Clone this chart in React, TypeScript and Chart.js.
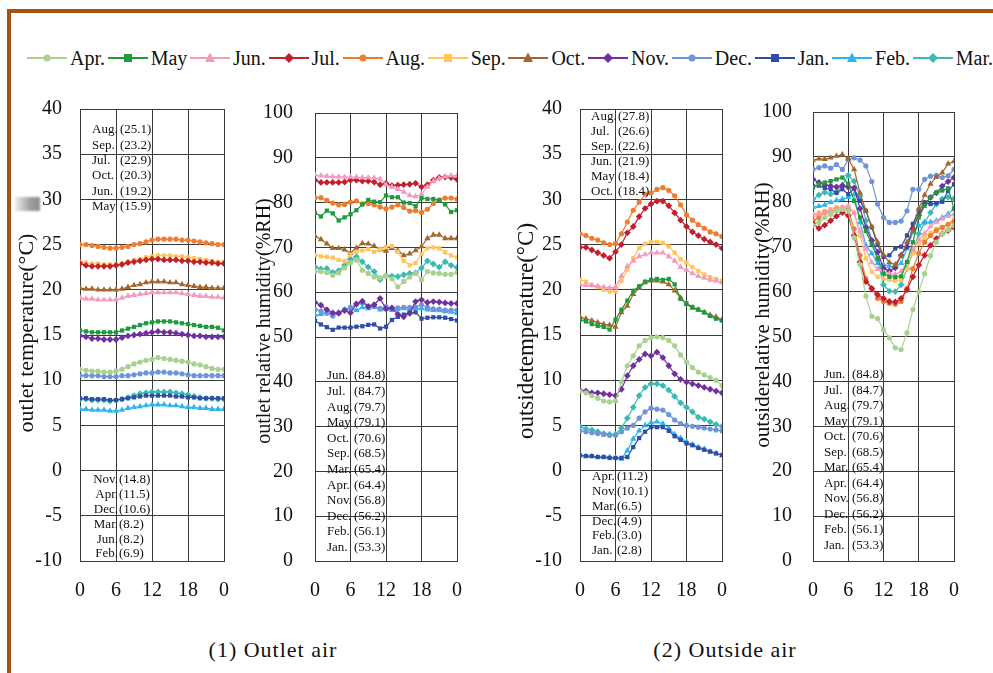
import React, { useEffect, useRef } from "react";
import { Chart, registerables } from "chart.js";

Chart.register(...registerables);

// ---------- DATA ----------
const hours = [0, 1, 2, 3, 4, 5, 6, 7, 8, 9, 10, 11, 12, 13, 14, 15, 16, 17, 18, 19, 20, 21, 22, 23, 24];
const hourTickLabels = ["0", "6", "12", "18", "0"];

const months = ["Apr.", "May", "Jun.", "Jul.", "Aug.", "Sep.", "Oct.", "Nov.", "Dec.", "Jan.", "Feb.", "Mar."];

// (1) outlet air temperature, series in the order of `months`
const outletTemp: number[][] = [
  [11.2, 11.1, 11.0, 11.0, 10.9, 10.9, 11.0, 11.2, 11.5, 11.8, 12.0, 12.2, 12.3, 12.5, 12.4, 12.3, 12.2, 12.1, 12.0, 11.8, 11.7, 11.5, 11.3, 11.2, 11.2],
  [15.5, 15.4, 15.3, 15.3, 15.3, 15.3, 15.3, 15.5, 15.7, 15.9, 16.1, 16.3, 16.4, 16.5, 16.5, 16.5, 16.4, 16.3, 16.2, 16.1, 16.0, 15.9, 15.9, 15.8, 15.5],
  [19.1, 19.0, 19.0, 18.9, 18.9, 18.9, 18.9, 19.1, 19.3, 19.4, 19.5, 19.6, 19.7, 19.7, 19.7, 19.7, 19.7, 19.6, 19.5, 19.4, 19.3, 19.3, 19.2, 19.2, 19.1],
  [22.9, 22.7, 22.6, 22.6, 22.6, 22.6, 22.7, 22.8, 23.0, 23.1, 23.2, 23.3, 23.4, 23.4, 23.3, 23.3, 23.3, 23.2, 23.2, 23.1, 23.1, 23.0, 23.0, 22.9, 22.9],
  [25.0, 25.0, 24.9, 24.8, 24.7, 24.6, 24.6, 24.7, 24.8, 25.0, 25.1, 25.3, 25.5, 25.6, 25.6, 25.6, 25.6, 25.5, 25.5, 25.4, 25.3, 25.2, 25.1, 25.0, 25.0],
  [23.1, 23.0, 22.9, 22.9, 22.8, 22.8, 22.8, 22.9, 23.1, 23.3, 23.4, 23.6, 23.7, 23.8, 23.8, 23.8, 23.7, 23.7, 23.6, 23.5, 23.4, 23.3, 23.2, 23.1, 23.1],
  [20.2, 20.1, 20.1, 20.0, 20.0, 20.0, 20.0, 20.1, 20.3, 20.5, 20.6, 20.8, 20.9, 20.9, 20.9, 20.8, 20.8, 20.6, 20.5, 20.4, 20.3, 20.3, 20.2, 20.2, 20.2],
  [14.9, 14.8, 14.6, 14.6, 14.5, 14.5, 14.5, 14.7, 14.9, 15.0, 15.1, 15.2, 15.3, 15.4, 15.3, 15.3, 15.2, 15.1, 15.0, 14.9, 14.9, 14.8, 14.8, 14.8, 14.8],
  [10.5, 10.5, 10.5, 10.5, 10.4, 10.4, 10.4, 10.5, 10.5, 10.6, 10.7, 10.8, 10.8, 10.9, 10.9, 10.8, 10.8, 10.7, 10.6, 10.5, 10.5, 10.5, 10.5, 10.5, 10.5],
  [8.0, 8.0, 7.9, 7.9, 7.9, 7.8, 7.8, 7.9, 8.0, 8.1, 8.2, 8.3, 8.3, 8.3, 8.3, 8.3, 8.2, 8.2, 8.1, 8.1, 8.0, 8.0, 8.0, 8.0, 8.0],
  [6.8, 6.8, 6.7, 6.7, 6.7, 6.6, 6.6, 6.7, 6.9, 7.0, 7.1, 7.2, 7.3, 7.3, 7.3, 7.2, 7.2, 7.1, 7.0, 7.0, 6.9, 6.9, 6.8, 6.8, 6.8],
  [7.9, 7.9, 7.8, 7.8, 7.8, 7.7, 7.8, 7.9, 8.1, 8.3, 8.5, 8.6, 8.7, 8.7, 8.7, 8.7, 8.6, 8.5, 8.4, 8.2, 8.1, 8.0, 8.0, 7.9, 7.9],
];

// (1) outlet air relative humidity
const outletRH: number[][] = [
  [64.6, 64.6, 64.4, 63.8, 64.3, 65.4, 66.6, 67.2, 64.9, 64.2, 63.4, 63.2, 63.6, 63.0, 61.2, 62.4, 63.4, 64.2, 62.8, 64.6, 64.3, 64.2, 64.0, 64.0, 64.4],
  [77.7, 76.9, 78.2, 77.6, 76.0, 76.7, 77.4, 78.3, 79.6, 80.6, 80.2, 80.1, 81.6, 81.2, 81.2, 80.0, 79.9, 79.2, 81.0, 80.8, 80.8, 80.5, 79.6, 77.9, 78.3],
  [86.2, 86.0, 85.9, 85.8, 85.8, 85.7, 85.7, 85.7, 85.6, 85.6, 85.5, 85.3, 84.0, 83.5, 83.0, 82.4, 81.6, 81.4, 81.9, 83.5, 84.8, 85.4, 85.8, 86.0, 86.0],
  [85.0, 84.5, 84.5, 84.5, 84.5, 84.6, 85.0, 85.0, 84.8, 84.8, 84.6, 84.0, 84.3, 83.8, 83.9, 84.0, 84.1, 84.3, 83.5, 84.0, 85.0, 85.6, 85.7, 85.6, 85.2],
  [81.1, 81.1, 80.5, 79.9, 79.5, 79.6, 80.1, 80.4, 79.7, 79.8, 79.5, 79.0, 78.6, 79.0, 79.5, 78.9, 78.1, 78.2, 77.8, 78.5, 79.8, 80.6, 81.0, 81.0, 80.8],
  [68.3, 68.0, 67.9, 67.7, 67.2, 66.9, 68.4, 69.0, 69.3, 69.6, 69.0, 69.6, 70.1, 70.3, 69.0, 67.0, 66.0, 66.5, 68.5, 69.8, 70.0, 69.8, 68.9, 68.2, 67.8],
  [72.5, 71.8, 70.8, 69.8, 69.8, 69.5, 68.7, 69.9, 70.9, 70.8, 70.3, 69.5, 69.2, 69.8, 69.3, 68.2, 68.6, 69.3, 70.2, 72.0, 72.8, 72.8, 72.0, 72.0, 72.0],
  [57.7, 57.1, 56.1, 55.4, 55.3, 55.9, 55.4, 57.4, 58.0, 56.8, 57.2, 58.6, 56.3, 56.5, 55.1, 54.5, 55.3, 57.9, 58.3, 57.7, 57.9, 57.8, 57.6, 57.5, 57.5],
  [56.1, 55.8, 55.3, 54.7, 55.4, 56.1, 56.6, 57.3, 57.6, 56.9, 56.8, 56.4, 56.8, 56.4, 56.5, 56.6, 56.6, 56.7, 57.2, 56.6, 56.3, 56.2, 56.0, 56.0, 56.0],
  [53.6, 52.8, 52.2, 51.6, 52.1, 52.1, 52.1, 52.3, 52.4, 52.7, 52.8, 51.9, 52.3, 53.8, 54.5, 55.0, 55.4, 55.5, 54.1, 54.3, 54.4, 54.4, 54.3, 54.0, 53.7],
  [54.9, 55.1, 55.3, 55.0, 55.5, 56.1, 56.4, 56.0, 56.6, 56.4, 56.7, 56.1, 56.2, 56.0, 56.2, 56.4, 56.1, 56.4, 56.4, 56.1, 56.0, 55.9, 55.7, 55.6, 55.3],
  [65.6, 65.2, 65.3, 64.4, 64.8, 66.0, 67.3, 67.9, 66.8, 65.6, 64.6, 62.8, 63.7, 63.6, 63.5, 63.9, 64.2, 64.3, 65.4, 67.0, 66.3, 65.6, 66.8, 66.0, 65.5],
];

// (2) outside air temperature
const outsideTemp: number[][] = [
  [8.8, 8.6, 8.3, 8.0, 7.7, 7.6, 7.7, 9.8, 11.6, 12.7, 13.8, 14.4, 14.7, 14.8, 14.7, 14.4, 13.8, 12.8, 12.0, 11.4, 10.9, 10.6, 10.3, 10.0, 9.4],
  [16.7, 16.5, 16.2, 16.0, 15.9, 15.6, 16.7, 17.8, 18.8, 19.9, 20.4, 20.9, 21.1, 21.2, 21.1, 21.2, 20.6, 19.0, 18.5, 18.1, 17.8, 17.5, 17.1, 16.8, 16.6],
  [20.6, 20.5, 20.5, 20.4, 20.3, 20.2, 20.3, 21.5, 22.6, 23.2, 23.7, 23.9, 24.1, 24.1, 24.1, 23.7, 23.2, 22.5, 22.2, 21.8, 21.5, 21.3, 21.1, 21.0, 20.8],
  [24.7, 24.7, 24.4, 24.1, 23.8, 23.5, 24.2, 25.0, 26.3, 27.0, 28.1, 29.0, 29.5, 29.8, 29.8, 29.3, 28.5, 27.7, 27.0, 26.4, 26.0, 25.6, 25.3, 25.0, 24.6],
  [26.2, 26.0, 25.7, 25.5, 25.2, 25.0, 25.1, 26.2, 27.5, 28.8, 29.7, 30.6, 30.7, 31.1, 31.3, 31.0, 30.4, 29.4, 28.3, 27.7, 27.2, 26.8, 26.4, 26.2, 25.9],
  [21.1, 20.9, 20.5, 20.3, 20.0, 19.8, 19.8, 21.0, 22.2, 23.5, 24.6, 25.1, 25.3, 25.3, 25.2, 24.8, 24.1, 23.4, 23.0, 22.5, 22.1, 21.7, 21.4, 21.2, 21.0],
  [17.0, 16.8, 16.6, 16.4, 16.2, 16.1, 15.9, 17.5, 18.2, 19.5, 20.2, 20.8, 21.0, 21.0, 20.9, 20.6, 19.9, 19.1, 18.4, 18.0, 17.8, 17.5, 17.2, 17.0, 16.7],
  [8.9, 8.8, 8.6, 8.6, 8.5, 8.4, 8.3, 9.0, 10.5, 11.6, 12.3, 12.9, 12.7, 13.1, 12.5, 11.6, 10.7, 10.1, 9.8, 9.6, 9.4, 9.2, 9.0, 8.8, 8.6],
  [4.4, 4.3, 4.2, 4.1, 4.0, 3.9, 3.9, 4.3, 4.7, 5.0, 5.8, 6.5, 6.9, 6.8, 6.7, 6.2, 5.6, 5.2, 5.0, 4.9, 4.8, 4.7, 4.6, 4.5, 4.4],
  [1.7, 1.6, 1.6, 1.5, 1.5, 1.4, 1.4, 1.4, 1.5, 2.6, 3.6, 4.3, 4.8, 4.8, 4.8, 4.4, 3.8, 3.4, 3.0, 2.8, 2.5, 2.3, 2.1, 1.9, 1.7],
  [1.7, 1.6, 1.6, 1.5, 1.5, 1.5, 1.4, 1.3, 2.2, 3.5, 4.4, 5.0, 5.3, 5.4, 5.2, 4.7, 4.0, 3.6, 3.2, 2.9, 2.6, 2.4, 2.1, 1.9, 1.7],
  [4.9, 4.6, 4.5, 4.3, 4.1, 4.0, 4.0, 4.7, 5.8, 7.0, 8.3, 9.2, 9.6, 9.6, 9.4, 8.9, 8.2, 7.5, 7.0, 6.5, 5.9, 5.7, 5.4, 5.1, 4.9],
];

// (2) outside air relative humidity
const outsideRH: number[][] = [
  [74.7, 75.4, 76.5, 77.2, 78.0, 78.3, 78.0, 72.0, 66.0, 59.0, 54.5, 54.0, 51.5, 49.7, 47.5, 47.1, 50.8, 56.0, 60.0, 64.0, 68.0, 71.0, 72.9, 73.8, 74.7],
  [83.2, 83.9, 84.3, 84.6, 85.0, 85.4, 84.0, 80.2, 76.5, 73.5, 70.5, 67.4, 64.0, 63.3, 63.2, 63.4, 66.6, 71.0, 76.5, 79.1, 81.0, 82.1, 82.5, 83.0, 78.5],
  [77.0, 77.3, 77.6, 78.0, 78.4, 78.8, 79.0, 77.5, 73.5, 69.5, 66.5, 65.0, 64.3, 64.0, 63.8, 64.5, 66.5, 69.5, 71.5, 73.0, 74.5, 75.5, 76.2, 76.8, 77.2],
  [75.1, 74.1, 74.8, 75.8, 76.8, 77.6, 76.9, 72.5, 66.6, 62.2, 60.7, 59.3, 58.5, 57.8, 57.7, 58.5, 60.4, 63.3, 65.9, 68.1, 70.3, 71.8, 72.9, 73.6, 74.3],
  [75.8, 76.5, 77.6, 77.8, 78.4, 78.5, 78.2, 74.0, 68.1, 62.9, 60.7, 58.5, 57.8, 57.4, 57.2, 57.8, 60.7, 65.1, 68.5, 71.0, 72.5, 73.6, 74.3, 75.0, 75.6],
  [77.3, 77.6, 78.0, 78.4, 78.8, 78.8, 79.0, 77.6, 72.5, 67.4, 64.4, 63.3, 62.9, 62.6, 62.4, 62.6, 65.1, 68.5, 70.7, 72.1, 73.1, 74.0, 74.3, 75.0, 76.2],
  [89.3, 89.6, 89.5, 89.8, 90.2, 90.5, 89.6, 87.2, 82.0, 78.0, 74.5, 71.0, 68.2, 66.5, 66.0, 68.0, 71.0, 73.5, 78.5, 81.5, 84.0, 85.5, 86.5, 88.5, 89.0],
  [85.0, 84.3, 83.8, 83.5, 83.3, 83.6, 83.3, 83.1, 78.5, 74.3, 71.4, 68.8, 65.2, 64.6, 65.3, 68.1, 70.0, 74.0, 77.0, 79.5, 81.0, 82.0, 83.5, 84.5, 85.4],
  [87.2, 87.6, 88.0, 87.5, 88.3, 87.2, 89.4, 89.8, 89.3, 88.0, 84.5, 79.5, 76.5, 75.4, 75.4, 75.7, 78.0, 82.8, 82.8, 85.0, 85.7, 85.9, 85.4, 85.8, 87.2],
  [83.5, 83.6, 83.1, 82.8, 82.0, 82.8, 81.7, 83.0, 80.2, 78.0, 74.3, 70.4, 67.7, 68.1, 69.6, 70.0, 72.5, 75.1, 78.0, 79.9, 79.5, 79.7, 80.0, 82.4, 83.9],
  [78.8, 79.0, 79.3, 79.9, 80.3, 80.6, 81.0, 81.7, 75.4, 70.3, 68.5, 66.3, 66.0, 65.7, 65.5, 66.3, 69.6, 73.2, 74.7, 75.4, 75.5, 75.8, 76.5, 77.3, 78.4],
  [80.6, 81.5, 82.1, 81.7, 82.1, 83.7, 85.9, 84.6, 81.3, 75.8, 71.4, 67.0, 61.5, 60.1, 60.0, 61.5, 65.1, 68.8, 72.9, 75.4, 77.6, 79.5, 80.6, 81.0, 80.7],
];

// monthly-mean annotations (text as shown)
const outletTempTopMonths = ["Aug.", "Sep.", "Jul.", "Oct.", "Jun.", "May"];
const outletTempTopValues = ["(25.1)", "(23.2)", "(22.9)", "(20.3)", "(19.2)", "(15.9)"];
const outletTempBottomMonths = ["Nov.", "Apr.", "Dec.", "Mar.", "Jun.", "Feb."];
const outletTempBottomValues = ["(14.8)", "(11.5)", "(10.6)", "(8.2)", "(8.2)", "(6.9)"];
const rhMonths = ["Jun.", "Jul.", "Aug.", "May", "Oct.", "Sep.", "Mar.", "Apr.", "Nov.", "Dec.", "Feb.", "Jan."];
const rhValues = ["(84.8)", "(84.7)", "(79.7)", "(79.1)", "(70.6)", "(68.5)", "(65.4)", "(64.4)", "(56.8)", "(56.2)", "(56.1)", "(53.3)"];
const outsideTempTopMonths = ["Aug.", "Jul.", "Sep.", "Jun.", "May", "Oct."];
const outsideTempTopValues = ["(27.8)", "(26.6)", "(22.6)", "(21.9)", "(18.4)", "(18.4)"];
const outsideTempBottomMonths = ["Apr.", "Nov.", "Mar.", "Dec.", "Feb.", "Jan."];
const outsideTempBottomValues = ["(11.2)", "(10.1)", "(6.5)", "(4.9)", "(3.0)", "(2.8)"];

// ---------- STYLES ----------
const monthColors = ["#A9D18E", "#1E9B3C", "#F49AC1", "#C0202E", "#ED7D31", "#FFC65C", "#A0672F", "#7030A0", "#6F95D8", "#2E4FA3", "#2CB5EC", "#3BBAB4"];
const monthPointStyles = ["circle", "rect", "triangle", "rectRot", "circle", "rect", "triangle", "rectRot", "circle", "rect", "triangle", "rectRot"];
const pointRadiusByStyle: Record<string, number> = { circle: 2.6, rect: 3.0, triangle: 3.6, rectRot: 3.4 };

const SERIF = "'Liberation Serif', 'Times New Roman', serif";
const TEXT = "#111";
const GRID = "#3a3a3a";
const PLOT_BOTTOM = 561;
const CANVAS_TOP = 79;
const TOP_PAD = 3;
const X_AXIS_H = 40;
const PAD_RIGHT = 12;

type Block = { months: string[]; values: string[]; monthDx: number; valueDx: number; y0: number; dy: number; monthAlign: "left" | "right" };

type Panel = {
  series: number[][];
  canvasLeft: number;
  plotLeft: number;
  plotRight: number;
  yMin: number;
  yMax: number;
  yStep: number;
  tickPad: number;
  title: string;
  titleX: number;
  titleY: number;
  titleFont: number;
  blocks: Block[];
};

const panels: Panel[] = [
  {
    series: outletTemp, canvasLeft: 5, plotLeft: 80, plotRight: 235, yMin: -10, yMax: 40, yStep: 5, tickPad: 18,
    title: "outlet temperature(°C)", titleX: 27, titleY: 333, titleFont: 22,
    blocks: [
      { months: outletTempTopMonths, values: outletTempTopValues, monthDx: 12, valueDx: 40, y0: 21, dy: 15.3, monthAlign: "left" },
      { months: outletTempBottomMonths, values: outletTempBottomValues, monthDx: 38, valueDx: 39, y0: 371, dy: 14.8, monthAlign: "right" },
    ],
  },
  {
    series: outletRH, canvasLeft: 240, plotLeft: 315, plotRight: 468, yMin: 0, yMax: 100, yStep: 10, tickPad: 22,
    title: "outlet relative humidity(%RH)", titleX: 265, titleY: 321, titleFont: 20,
    blocks: [{ months: rhMonths, values: rhValues, monthDx: 12, valueDx: 39, y0: 263, dy: 15.6, monthAlign: "left" }],
  },
  {
    series: outsideTemp, canvasLeft: 505, plotLeft: 580, plotRight: 733, yMin: -10, yMax: 40, yStep: 5, tickPad: 18,
    title: "outsidetemperature(°C)", titleX: 527, titleY: 331, titleFont: 23,
    blocks: [
      { months: outsideTempTopMonths, values: outsideTempTopValues, monthDx: 11, valueDx: 38, y0: 7.5, dy: 15.1, monthAlign: "left" },
      { months: outsideTempBottomMonths, values: outsideTempBottomValues, monthDx: 12, valueDx: 37, y0: 368, dy: 14.7, monthAlign: "left" },
    ],
  },
  {
    series: outsideRH, canvasLeft: 738, plotLeft: 813, plotRight: 965, yMin: 0, yMax: 100, yStep: 10, tickPad: 21,
    title: "outsiderelative humidity(%RH)", titleX: 763, titleY: 315, titleFont: 21,
    blocks: [{ months: rhMonths, values: rhValues, monthDx: 11, valueDx: 39, y0: 263, dy: 15.5, monthAlign: "left" }],
  },
];

function PanelChart({ panel }: { panel: Panel }) {
  const ref = useRef<HTMLCanvasElement | null>(null);
  const width = panel.plotRight + PAD_RIGHT - panel.canvasLeft;
  const height = PLOT_BOTTOM + X_AXIS_H - CANVAS_TOP;

  useEffect(() => {
    if (!ref.current) return;
    const overlay = {
      id: "overlay",
      afterDraw(chart: any) {
        const ctx = chart.ctx;
        const area = chart.chartArea;
        ctx.save();
        ctx.fillStyle = TEXT;
        ctx.font = `${panel.titleFont}px ${SERIF}`;
        ctx.textAlign = "center";
        ctx.textBaseline = "middle";
        ctx.translate(panel.titleX - panel.canvasLeft, panel.titleY - CANVAS_TOP);
        ctx.rotate(-Math.PI / 2);
        ctx.fillText(panel.title, 0, 0);
        ctx.restore();
        ctx.save();
        ctx.fillStyle = TEXT;
        ctx.font = `13px ${SERIF}`;
        ctx.textBaseline = "middle";
        panel.blocks.forEach((b) => {
          b.months.forEach((m, i) => {
            const y = area.top + b.y0 + i * b.dy;
            ctx.textAlign = b.monthAlign;
            ctx.fillText(m, area.left + b.monthDx, y);
            ctx.textAlign = "left";
            ctx.fillText(b.values[i], area.left + b.valueDx, y);
          });
        });
        ctx.restore();
      },
    };

    const datasets = months.map((m, i) => ({
      label: m,
      data: hours.map((h, j) => ({ x: h, y: panel.series[i][j] })),
      borderColor: monthColors[i],
      backgroundColor: monthColors[i],
      pointBackgroundColor: monthColors[i],
      pointBorderColor: monthColors[i],
      pointStyle: monthPointStyles[i] as any,
      pointRadius: pointRadiusByStyle[monthPointStyles[i]],
      pointBorderWidth: 0,
      borderWidth: 1.2,
      tension: 0,
    }));

    const chart = new Chart(ref.current, {
      type: "line",
      data: { datasets },
      options: {
        animation: false,
        responsive: false,
        maintainAspectRatio: false,
        devicePixelRatio: 1,
        layout: { padding: { left: 0, top: TOP_PAD, right: PAD_RIGHT, bottom: 0 } },
        plugins: { legend: { display: false }, tooltip: { enabled: false } },
        scales: {
          x: {
            type: "linear",
            min: 0,
            max: 24,
            afterFit: (s: any) => { s.height = X_AXIS_H; },
            ticks: {
              stepSize: 6,
              padding: 18,
              color: TEXT,
              font: { family: SERIF, size: 20 },
              maxRotation: 0,
              callback: (v: any) => hourTickLabels[Math.round(Number(v) / 6)] ?? "",
            },
            grid: { color: GRID, lineWidth: 1, drawTicks: false },
            border: { color: GRID, width: 1 },
          },
          y: {
            min: panel.yMin,
            max: panel.yMax,
            afterFit: (s: any) => { s.width = panel.plotLeft - panel.canvasLeft; },
            ticks: {
              stepSize: panel.yStep,
              padding: panel.tickPad,
              color: TEXT,
              font: { family: SERIF, size: 20 },
            },
            grid: { color: GRID, lineWidth: 1, drawTicks: false },
            border: { color: GRID, width: 1 },
          },
        },
      },
      plugins: [overlay],
    } as any);
    return () => chart.destroy();
  }, [panel]);

  return (
    <canvas
      ref={ref}
      width={width}
      height={height}
      style={{ position: "absolute", left: panel.canvasLeft, top: CANVAS_TOP, width, height }}
    />
  );
}

function Marker({ style, color }: { style: string; color: string }) {
  if (style === "circle") return <circle cx={20} cy={8} r={3.5} fill={color} />;
  if (style === "rect") return <rect x={16} y={4} width={8} height={8} fill={color} />;
  if (style === "triangle") return <polygon points="20,2.5 25,12 15,12" fill={color} />;
  return <polygon points="20,3 25,8 20,13 15,8" fill={color} />;
}

function Legend() {
  return (
    <div
      style={{
        position: "absolute", left: 27, top: 46, height: 24, display: "flex", alignItems: "center",
        whiteSpace: "nowrap", fontFamily: SERIF, fontSize: 20, color: TEXT, lineHeight: "24px",
      }}
    >
      {months.map((m, i) => (
        <div key={m} style={{ display: "flex", alignItems: "center" }}>
          <svg width={40} height={16} style={{ display: "block" }}>
            <line x1={0} y1={8} x2={40} y2={8} stroke={monthColors[i]} strokeWidth={2} />
            <Marker style={monthPointStyles[i]} color={monthColors[i]} />
          </svg>
          <span style={{ marginLeft: 3, marginRight: 2.7 }}>{m}</span>
        </div>
      ))}
    </div>
  );
}

export default function App() {
  return (
    <div style={{ position: "absolute", left: 0, top: 0, width: 993, height: 673, overflow: "hidden", background: "#fff" }}>
      <div
        style={{
          position: "absolute", left: 7, top: 9, width: 1100, height: 800,
          borderLeft: "4px solid #A4520F", borderTop: "4px solid #A4520F",
        }}
      />
      <div
        style={{
          position: "absolute", left: 15, top: 197, width: 25, height: 14,
          background: "linear-gradient(to right, #eeeeee, #a0a0a0 60%, #8c8c8c)", filter: "blur(1px)",
        }}
      />
      <Legend />
      {panels.map((p, i) => (
        <PanelChart key={i} panel={p} />
      ))}
      <div style={{ position: "absolute", left: 173, width: 200, top: 637, textAlign: "center", fontFamily: SERIF, fontSize: 22, color: TEXT, letterSpacing: 1 }}>
        (1) Outlet air
      </div>
      <div style={{ position: "absolute", left: 625, width: 200, top: 637, textAlign: "center", fontFamily: SERIF, fontSize: 22, color: TEXT, letterSpacing: 1 }}>
        (2) Outside air
      </div>
    </div>
  );
}
